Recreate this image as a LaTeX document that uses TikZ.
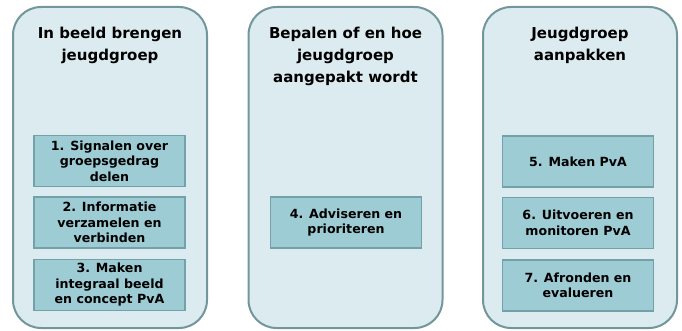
\documentclass[tikz,border=0pt]{standalone}
\usepackage{fontspec}
\setmainfont{DejaVu Sans}
\definecolor{panelfill}{HTML}{DBEBEF}
\definecolor{paneldraw}{HTML}{72969C}
\definecolor{stepfill}{HTML}{9DCCD4}
\definecolor{stepdraw}{HTML}{74A1A8}
\begin{document}
\begin{tikzpicture}[x=1pt,y=-1pt]
          \useasboundingbox (0,0) rectangle (682,331);
          \tikzstyle{panel}=[draw=paneldraw,line width=2pt,fill=panelfill,rounded corners=28pt,minimum width=194pt,minimum height=321pt];
          \tikzstyle{title}=[anchor=north,align=center,inner sep=0pt,font=\bfseries\fontsize{15}{22}\selectfont];
          \tikzstyle{stepbox}=[draw=stepdraw,line width=1.8pt,fill=stepfill,minimum width=151pt,minimum height=51pt,align=center,inner sep=1pt,font=\bfseries\fontsize{12.6}{15.5}\selectfont];
          %panels
          \node[panel] (p1) at (110,167.5) {};
          \node[panel] (p2) at (345.5,167.5) {};
          \node[panel] (p3) at (580,167.5) {};
          \node[title] (t1) at (110,27) {In beeld brengen\\jeugdgroep};
          \node[title] (t2) at (345.5,27) {Bepalen of en hoe\\jeugdgroep\\aangepakt wordt};
          \node[title] (t3) at (580,27) {Jeugdgroep\\aanpakken};
          %steps
          \node[stepbox] (1) at (109.5,161) {1. Signalen over\\groepsgedrag\\delen};
          \node[stepbox] (2) at (109.5,222.5) {2. Informatie\\verzamelen en\\verbinden};
          \node[stepbox] (3) at (109.5,285) {3. Maken\\integraal beeld\\en concept PvA};
          \node[stepbox] (4) at (346,222.5) {4. Adviseren en\\prioriteren};
          \node[stepbox] (5) at (578,161.5) {5. Maken PvA};
          \node[stepbox] (6) at (578,223) {6. Uitvoeren en\\monitoren PvA};
          \node[stepbox] (7) at (578,285.5) {7. Afronden en\\evalueren};
      \end{tikzpicture}
\end{document}
